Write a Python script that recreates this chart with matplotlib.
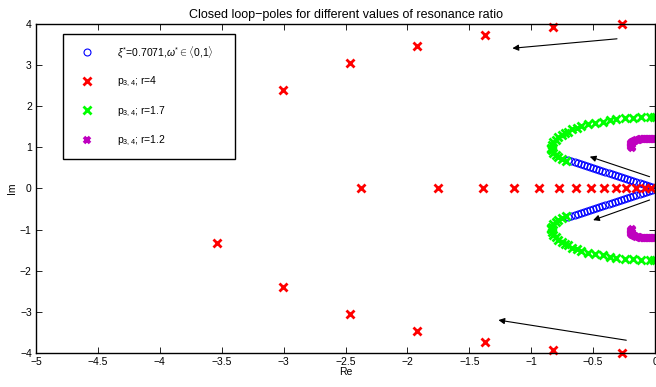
import numpy as np
import matplotlib.pyplot as plt

plt.rcParams['font.family'] = ['Liberation Sans', 'DejaVu Sans']
plt.rcParams['mathtext.fontset'] = 'custom'
plt.rcParams['mathtext.rm'] = 'Liberation Sans'
plt.rcParams['mathtext.it'] = 'Liberation Sans:italic'

# blue: xi* = 0.7071, omega* in <0,1>  (upper half, lower half is the conjugate)
blue_re = [-0.025, -0.05, -0.075, -0.10, -0.125, -0.15, -0.175, -0.20, -0.225,
           -0.25, -0.275, -0.30, -0.325, -0.35, -0.375, -0.40, -0.425, -0.45,
           -0.475, -0.50, -0.525, -0.55, -0.575, -0.60, -0.625, -0.65, -0.675,
           -0.70]
blue_im = [0.025, 0.05, 0.075, 0.10, 0.125, 0.15, 0.175, 0.20, 0.225,
           0.25, 0.275, 0.30, 0.325, 0.35, 0.375, 0.40, 0.425, 0.45,
           0.475, 0.50, 0.525, 0.55, 0.575, 0.60, 0.625, 0.65, 0.675,
           0.695]

# red: r = 4
red_cplx_re = [-0.268, -0.82, -1.372, -1.92, -2.466, -3.007, -3.54]
red_cplx_im = [3.99, 3.92, 3.73, 3.46, 3.04, 2.40, 1.32]
red_real = [-2.372, -1.752, -1.390, -1.141, -0.940, -0.779, -0.642, -0.521,
            -0.412, -0.315, -0.232, -0.151, -0.084, -0.031]

# green: r = 1.7
green_re = [-0.01, -0.044, -0.111, -0.178, -0.245, -0.312, -0.366, -0.420,
            -0.487, -0.541, -0.594, -0.634, -0.674, -0.701, -0.728, -0.755,
            -0.782, -0.803, -0.822, -0.835, -0.841, -0.841, -0.835, -0.822,
            -0.803, -0.782, -0.755, -0.723]
green_im = [1.75, 1.747, 1.732, 1.724, 1.707, 1.683, 1.667, 1.626,
            1.602, 1.570, 1.521, 1.480, 1.440, 1.383, 1.343, 1.302,
            1.245, 1.180, 1.123, 1.059, 0.994, 0.96, 0.937, 0.872,
            0.815, 0.759, 0.710, 0.677]

# magenta: r = 1.2
mag_re = [-0.002, -0.01, -0.02, -0.03, -0.04, -0.05, -0.06, -0.07, -0.08,
          -0.09, -0.10, -0.11, -0.12, -0.13, -0.14, -0.15, -0.16, -0.168,
          -0.176, -0.183, -0.188, -0.192, -0.195, -0.196, -0.195, -0.192,
          -0.188, -0.184]
mag_im = [1.20, 1.201, 1.203, 1.204, 1.205, 1.205, 1.205, 1.204, 1.203,
          1.201, 1.199, 1.196, 1.192, 1.187, 1.181, 1.174, 1.165, 1.155,
          1.142, 1.128, 1.112, 1.095, 1.076, 1.057, 1.038, 1.020,
          1.002, 0.985]

# arrows: (tail, head)
arrows = [((-0.307, 3.64), (-1.152, 3.41)),
          ((-0.044, 0.287), (-0.527, 0.774)),
          ((-0.044, -0.28), (-0.50, -0.77)),
          ((-0.232, -3.69), (-1.265, -3.20))]

fig = plt.figure(figsize=(6.56, 3.87), dpi=100)
ax = fig.add_axes([0.0549, 0.0879, 0.9436, 0.8501])

blue_re_all = blue_re + blue_re
blue_im_all = blue_im + [-v for v in blue_im]
ax.plot(blue_re_all, blue_im_all, 'o', ls='none', mfc='none', mec='b',
        ms=5, mew=0.8, clip_on=False,
        label=r'$\xi^{*}$=0.7071,$\omega^{*}\in\langle$0,1$\rangle$')

red_re_all = red_cplx_re + red_cplx_re + red_real
red_im_all = red_cplx_im + [-v for v in red_cplx_im] + [0.0] * len(red_real)
ax.plot(red_re_all, red_im_all, 'x', ls='none', color='r', ms=5.5, mew=2,
        clip_on=False, label=r'p$_{3,4}$; r=4')

ax.plot(green_re + green_re, green_im + [-v for v in green_im], 'x', ls='none',
        color='#00ff00', ms=5.5, mew=2, clip_on=False,
        label=r'p$_{3,4}$; r=1.7')

ax.plot(mag_re + mag_re, mag_im + [-v for v in mag_im], 'x', ls='none',
        color='m', ms=4.5, mew=2.6, clip_on=False, label=r'p$_{3,4}$; r=1.2')

for tail, head in arrows:
    ax.annotate('', xy=head, xytext=tail,
                arrowprops=dict(arrowstyle='-|>', color='k', lw=0.8,
                                mutation_scale=9, shrinkA=0, shrinkB=0))

ax.set_xlim(-5, 0)
ax.set_ylim(-4, 4)
ax.set_xticks(np.arange(-5, 0.01, 0.5))
ax.set_xticklabels(['−5', '−4.5', '−4', '−3.5', '−3', '−2.5', '−2', '−1.5',
                    '−1', '−0.5', '0'])
ax.set_yticks(np.arange(-4, 4.01, 1))
ax.tick_params(direction='in', top=True, right=True, length=4, width=0.6,
               labelsize=7.5, pad=3)
for s in ax.spines.values():
    s.set_linewidth(1.0)

ax.set_title('Closed loop−poles for different values of resonance ratio',
             fontsize=9, pad=4)
ax.set_xlabel('Re', fontsize=7.5, labelpad=0)
ax.set_ylabel('Im', fontsize=7.5, labelpad=2)

leg = ax.legend(loc='upper left', bbox_to_anchor=(0.043, 0.608, 0.278, 0.362),
                mode='expand', fontsize=7.5, frameon=True, fancybox=False,
                framealpha=1, edgecolor='k', borderaxespad=0, borderpad=1.0,
                labelspacing=1.45, handletextpad=1.6, handlelength=2.6)
leg.get_frame().set_linewidth(1.0)

fig.savefig('out.png', dpi=100)
